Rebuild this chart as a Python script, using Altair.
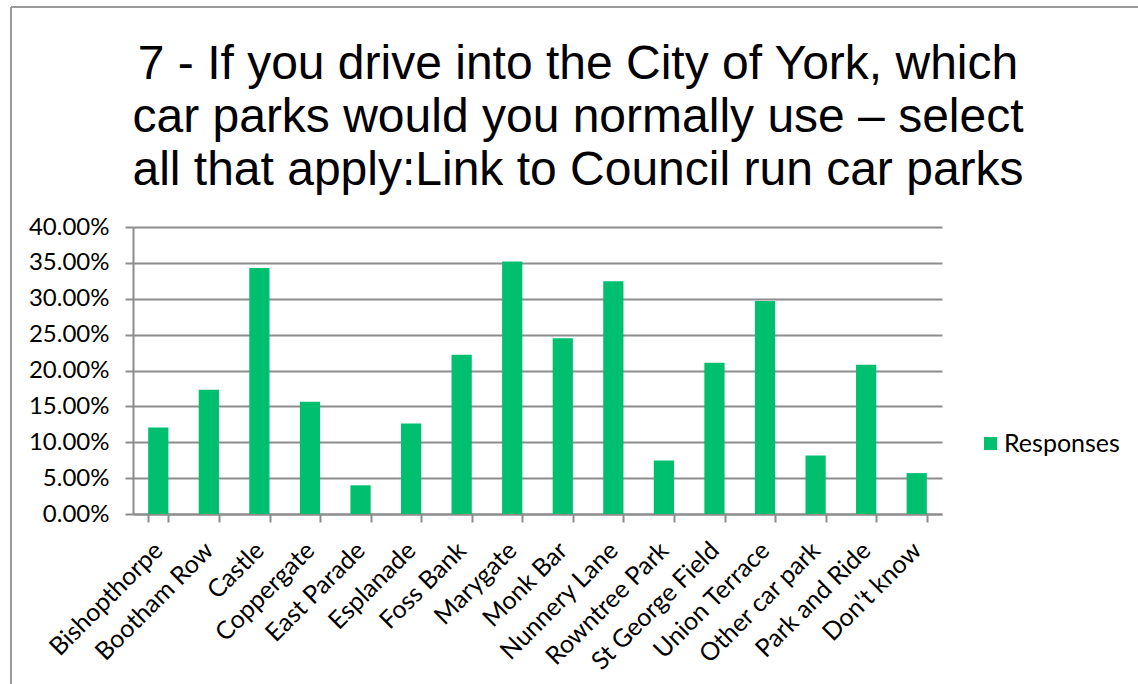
import altair as alt
import pandas as pd

categories = ["Bishopthorpe", "Bootham Row", "Castle", "Coppergate", "East Parade",
              "Esplanade", "Foss Bank", "Marygate", "Monk Bar", "Nunnery Lane",
              "Rowntree Park", "St George Field", "Union Terrace", "Other car park",
              "Park and Ride", "Don't know"]
values = [0.1204, 0.1730, 0.3430, 0.1565, 0.0400, 0.1260, 0.2220, 0.3520,
          0.2450, 0.3245, 0.0745, 0.2107, 0.2970, 0.0815, 0.2080, 0.0570]
series = ["Responses"] * len(categories)
y_ticks = [0, 0.05, 0.10, 0.15, 0.20, 0.25, 0.30, 0.35, 0.40]
title_lines = ["7 - If you drive into the City of York, which",
               "car parks would you normally use \u2013 select",
               "all that apply:Link to Council run car parks"]

df = pd.DataFrame({"category": categories, "value": values, "series": series})
title_df = pd.DataFrame({"t": ["\n".join(title_lines)]})

LABEL_FONT = "Lato"
GRID = "#8c8c8c"

bars = alt.Chart(df).mark_bar(color="#00BF6F").encode(
    x=alt.X("category:N", sort=categories, title=None,
            scale=alt.Scale(paddingInner=0.6, paddingOuter=0.3),
            axis=alt.Axis(labelAngle=-45, labelAlign="right", labelBaseline="middle",
                          labelFont=LABEL_FONT, labelFontSize=25, labelColor="#000000",
                          labelPadding=24,
                          tickBand="extent", tickSize=8, tickColor=GRID,
                          tickWidth=2, domainColor=GRID, domainWidth=2, grid=False,
                          labelOverlap=False)),
    y=alt.Y("value:Q", title=None,
            scale=alt.Scale(domain=[0, 0.40], nice=False),
            axis=alt.Axis(values=y_ticks, format=".2%", labelFont=LABEL_FONT,
                          labelFontSize=24, labelColor="#000000", labelPadding=16,
                          tickSize=8, tickColor=GRID, tickWidth=2, domainColor=GRID,
                          domainWidth=2, gridColor=GRID, gridWidth=2)),
    fill=alt.Fill("series:N", scale=alt.Scale(range=["#00BF6F"]),
                  legend=alt.Legend(title=None, orient="none", legendX=845, legendY=204,
                                    symbolType="square", symbolSize=170,
                                    symbolStrokeWidth=0, labelFont=LABEL_FONT,
                                    labelFontSize=25, labelColor="#000000",
                                    labelOffset=1)),
)

frame_top = alt.Chart(df).mark_rule(color="#9a9a9a", strokeWidth=2).encode(
    x=alt.value(-122), x2=alt.value(1010), y=alt.value(-220))
frame_left = alt.Chart(df).mark_rule(color="#9a9a9a", strokeWidth=2).encode(
    x=alt.value(-122), y=alt.value(-220), y2=alt.value(460))

title = alt.Chart(title_df).mark_text(
    font="Liberation Sans", fontSize=48, color="#000000", align="center",
    baseline="alphabetic", lineBreak="\n", lineHeight=53
).encode(text="t:N", x=alt.value(445), y=alt.value(-148))

chart = alt.layer(frame_top, frame_left, title, bars).properties(
    width=809, height=287,
    autosize=alt.AutoSizeParams(type="none"),
    padding={"left": 133, "top": 227, "right": 196, "bottom": 170},
    background="white",
).configure_view(stroke=None)

chart.save("out.html", embed_options={"renderer": "svg", "actions": False})
